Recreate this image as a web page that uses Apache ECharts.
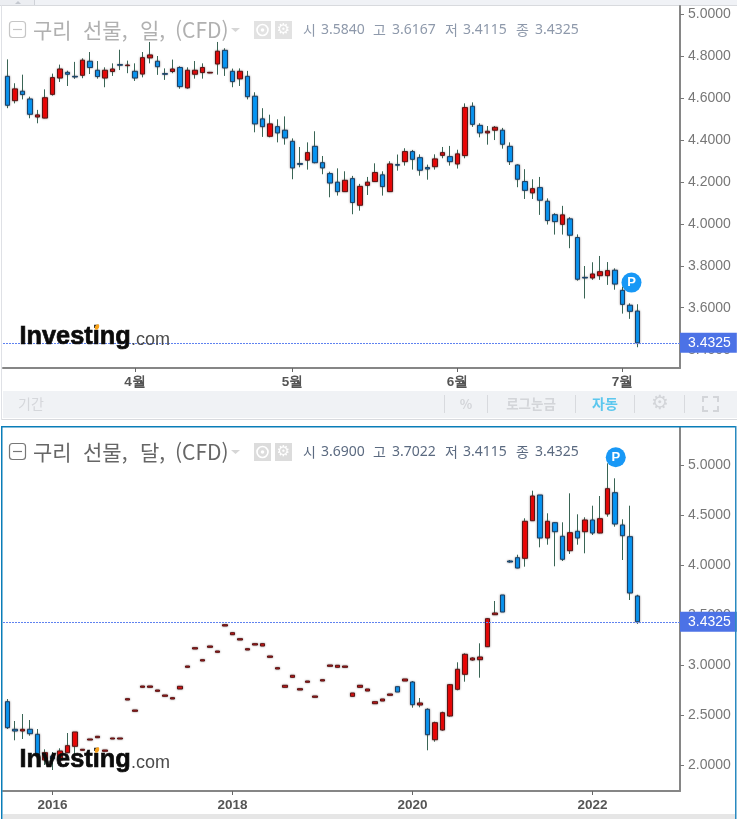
<!DOCTYPE html>
<html lang="ko">
<head>
<meta charset="utf-8">
<title>구리 선물</title>
<style>
  html, body { margin: 0; padding: 0; background: #fff; }
  #chart { width: 737px; height: 819px; }
</style>
<script src="https://cdn.jsdelivr.net/npm/echarts@6/dist/echarts.min.js"></script>
</head>
<body>
<div id="chart"></div>
<script>
// Daily copper futures candles
const dailyOpen = [4.704,4.588,4.633,4.596,4.510,4.505,4.618,4.696,4.723,4.704,4.709,4.776,4.733,4.696,4.727,4.760,4.755,4.728,4.715,4.792,4.776,4.717,4.727,4.746,4.649,4.714,4.722,4.720,4.763,4.828,4.728,4.692,4.704,4.609,4.501,4.418,4.464,4.447,4.394,4.288,4.304,4.370,4.292,4.240,4.199,4.154,4.216,4.089,4.184,4.202,4.234,4.154,4.283,4.297,4.345,4.316,4.269,4.273,4.327,4.321,4.286,4.326,4.561,4.470,4.434,4.447,4.447,4.370,4.281,4.202,4.148,4.173,4.108,4.044,3.998,4.024,3.935,3.745,3.742,3.753,3.753,3.779,3.683,3.612,3.584];
const dailyClose = [4.566,4.644,4.617,4.523,4.520,4.602,4.698,4.739,4.714,4.701,4.781,4.746,4.703,4.733,4.739,4.757,4.758,4.696,4.793,4.806,4.750,4.714,4.739,4.655,4.733,4.733,4.746,4.723,4.824,4.744,4.679,4.728,4.607,4.477,4.464,4.477,4.434,4.410,4.267,4.284,4.340,4.292,4.267,4.195,4.154,4.208,4.102,4.179,4.199,4.245,4.178,4.286,4.280,4.345,4.308,4.256,4.262,4.310,4.340,4.297,4.334,4.555,4.475,4.434,4.442,4.461,4.380,4.297,4.213,4.160,4.168,4.113,4.016,4.011,4.043,3.946,3.736,3.742,3.761,3.772,3.777,3.713,3.616,3.583,3.4325];
const dailyHigh = [4.785,4.671,4.712,4.607,4.544,4.642,4.717,4.760,4.731,4.773,4.790,4.820,4.777,4.747,4.766,4.831,4.779,4.766,4.820,4.868,4.801,4.742,4.784,4.752,4.747,4.777,4.766,4.725,4.868,4.838,4.741,4.742,4.730,4.628,4.552,4.521,4.499,4.513,4.408,4.367,4.389,4.442,4.324,4.249,4.265,4.251,4.229,4.191,4.224,4.289,4.251,4.299,4.331,4.361,4.353,4.332,4.283,4.332,4.367,4.372,4.354,4.575,4.580,4.480,4.467,4.467,4.458,4.389,4.284,4.261,4.213,4.224,4.122,4.051,4.086,4.032,3.950,3.799,3.817,3.847,3.818,3.788,3.701,3.621,3.6167];
const dailyLow = [4.552,4.575,4.594,4.504,4.480,4.504,4.612,4.677,4.658,4.692,4.695,4.715,4.693,4.652,4.706,4.734,4.719,4.682,4.699,4.766,4.711,4.687,4.719,4.645,4.645,4.693,4.693,4.719,4.712,4.706,4.652,4.658,4.594,4.437,4.415,4.413,4.389,4.378,4.213,4.270,4.259,4.289,4.237,4.127,4.135,4.154,4.046,4.063,4.138,4.200,4.135,4.152,4.254,4.278,4.259,4.230,4.211,4.259,4.313,4.278,4.264,4.313,4.463,4.413,4.378,4.400,4.359,4.281,4.175,4.119,4.119,4.043,3.997,3.949,3.949,3.884,3.729,3.644,3.733,3.733,3.709,3.686,3.572,3.547,3.4115];

// Monthly copper futures candles, July 2015 to July 2022
const monthlyOpen = [2.633,2.357,2.34,2.357,2.307,2.05,2.09,2.05,2.123,2.187,2.147,2.25,2.273,2.137,2.26,2.26,2.65,2.537,2.777,2.777,2.737,2.687,2.66,2.76,2.977,3.16,3.04,3.177,3.127,3.39,3.303,3.25,3.15,3.20,3.19,3.077,2.96,2.777,2.877,2.75,2.827,2.677,2.84,2.987,2.977,2.977,2.687,2.777,2.74,2.613,2.64,2.697,2.783,2.84,2.83,2.60,2.557,2.253,2.35,2.49,2.757,2.907,3.05,3.053,3.183,3.503,3.70,4.04,4.073,4.067,4.443,4.70,4.27,4.423,4.287,4.143,4.337,4.333,4.45,4.32,4.51,4.723,4.40,4.283,3.69];
const monthlyClose = [2.373,2.34,2.357,2.313,2.093,2.123,2.06,2.14,2.193,2.33,2.157,2.26,2.287,2.15,2.27,2.27,2.663,2.55,2.79,2.79,2.75,2.70,2.673,2.787,2.99,3.173,3.053,3.19,3.14,3.403,3.323,3.263,3.163,3.213,3.213,3.09,2.973,2.797,2.897,2.763,2.84,2.69,2.853,3.0,2.997,2.99,2.72,2.797,2.76,2.633,2.66,2.71,2.73,2.86,2.603,2.62,2.303,2.423,2.523,2.803,2.957,3.107,3.07,3.08,3.463,3.52,3.53,4.03,3.97,4.437,4.69,4.27,4.437,4.333,4.057,4.323,4.27,4.45,4.32,4.463,4.763,4.41,4.293,3.72,3.4325];
const monthlyHigh = [2.66,2.44,2.51,2.45,2.36,2.157,2.13,2.167,2.32,2.33,2.157,2.26,2.287,2.15,2.27,2.27,2.663,2.55,2.79,2.79,2.75,2.70,2.673,2.787,2.99,3.173,3.053,3.19,3.14,3.403,3.323,3.263,3.163,3.213,3.213,3.09,2.973,2.797,2.897,2.763,2.84,2.69,2.853,3.0,2.997,2.99,2.72,2.797,2.76,2.633,2.66,2.71,2.783,2.86,2.84,2.67,2.567,2.433,2.533,2.81,3.027,3.117,3.077,3.217,3.47,3.64,3.70,4.05,4.103,4.467,4.743,4.70,4.517,4.427,4.427,4.717,4.507,4.477,4.593,4.69,5.017,4.867,4.457,4.593,3.7022];
const monthlyLow = [2.36,2.247,2.26,2.293,2.09,2.0,1.95,2.0,2.117,2.10,2.147,2.25,2.273,2.137,2.26,2.26,2.65,2.537,2.777,2.777,2.737,2.687,2.66,2.76,2.977,3.16,3.04,3.177,3.127,3.39,3.303,3.25,3.15,3.20,3.19,3.077,2.96,2.777,2.877,2.75,2.827,2.677,2.84,2.987,2.977,2.977,2.687,2.777,2.74,2.613,2.64,2.697,2.73,2.84,2.573,2.577,2.147,2.233,2.343,2.483,2.747,2.833,3.043,2.873,3.18,3.50,3.53,4.023,3.967,3.983,4.443,4.177,4.203,3.987,4.04,4.11,4.203,4.117,4.30,4.317,4.483,4.383,4.05,3.65,3.4115];

// Axis ticks
const dailyPriceTicks = [3.4,3.6,3.8,4.0,4.2,4.4,4.6,4.8,5.0];
const monthlyPriceTicks = [2.0,2.5,3.0,3.5,4.0,4.5,5.0];
const dailyTimeTicks = [17,38,60,82];
const dailyTimeLabels = ['4월','5월','6월','7월'];
const monthlyTimeTicks = [6,30,54,78];
const monthlyTimeLabels = ['2016','2018','2020','2022'];

// Header texts and last price
const lastPrice = 3.4325;
const dailyTitle = '구리 선물, 일, (CFD)';
const monthlyTitle = '구리 선물, 달, (CFD)';
const quoteNames = ['시','고','저','종'];
const dailyQuote = ['3.5840','3.6167','3.4115','3.4325'];
const monthlyQuote = ['3.6900','3.7022','3.4115','3.4325'];
const toolbarItems = ['%','로그눈금','자동'];

// Pivot annotations as [candle index, price]
const dailyPivot = [83.2, 3.72];
const monthlyPivot = [81.1, 5.077];

const UI_FONT = '"Noto Sans CJK KR", "Noto Sans", sans-serif';
const AXIS_FONT = '"Liberation Sans", Arial, sans-serif';
const UP = '#f00000', DOWN = '#0097fb';
const UP_EDGE = '#5c1414', DOWN_EDGE = '#1b4166', WICK = '#2f5d4c';

function panelSeries(gridIdx, open, close, high, low, pivot) {
  const wicks = open.map((o, i) => [i, o, close[i], low[i], high[i]]);
  const bodies = open.map((o, i) => [i, o, close[i], Math.min(o, close[i]), Math.max(o, close[i])]);
  return [
    {
      type: 'candlestick', xAxisIndex: gridIdx, yAxisIndex: gridIdx, data: wicks, barWidth: 1,
      itemStyle: { color: WICK, color0: WICK, borderColor: WICK, borderColor0: WICK, borderWidth: 1, opacity: 0.95 },
      silent: true, z: 2
    },
    {
      type: 'candlestick', xAxisIndex: gridIdx, yAxisIndex: gridIdx, data: bodies, barWidth: 5,
      itemStyle: {
        color: UP, color0: DOWN, borderColor: UP_EDGE, borderColor0: DOWN_EDGE, borderWidth: 1,
        shadowBlur: 2, shadowColor: 'rgba(95,80,80,0.6)'
      },
      silent: true, z: 3,
      markLine: {
        silent: true, symbol: 'none', animation: false, z: 6,
        precision: 4,
        lineStyle: { type: [2, 1], color: '#5f82f0', width: 1 },
        label: {
          position: 'end', distance: 0, formatter: () => lastPrice.toFixed(4), color: '#fff',
          backgroundColor: '#4c72e6', padding: [4, 6, 2, 8],
          fontFamily: AXIS_FONT, fontSize: 14, lineHeight: 14
        },
        data: [{ yAxis: lastPrice }]
      },
      markPoint: {
        silent: true, symbol: 'circle', symbolSize: 20, animation: false, z: 7,
        itemStyle: { color: '#1898f6', shadowBlur: 0 },
        label: { formatter: 'P', color: '#fff', fontFamily: AXIS_FONT, fontWeight: 'bold', fontSize: 13 },
        data: [{ coord: pivot }]
      }
    }
  ];
}

function xAxisOf(gridIdx, ticks, labels) {
  return {
    type: 'value', gridIndex: gridIdx, min: -0.6, max: 89.667, splitLine: { show: false },
    axisLine: { onZero: false, lineStyle: { color: '#868686', width: 2 } },
    axisTick: { customValues: ticks, length: 4, inside: false, lineStyle: { color: '#666', width: 1 } },
    axisLabel: {
      customValues: ticks, margin: 7, color: '#555', fontFamily: AXIS_FONT, fontWeight: 'bold', fontSize: 13.5,
      formatter: v => labels[ticks.indexOf(v)]
    }
  };
}

function yAxisOf(gridIdx, ticks, min, max) {
  return {
    type: 'value', gridIndex: gridIdx, position: 'right', min, max, scale: true, splitLine: { show: false },
    axisLine: { show: true, onZero: false, lineStyle: { color: '#868686', width: 2 } },
    axisTick: { show: true, customValues: ticks, length: 4, lineStyle: { color: '#777', width: 1 } },
    axisLabel: {
      customValues: ticks, margin: 8, color: '#777', fontFamily: AXIS_FONT, fontSize: 14,
      padding: [4, 0, 0, 0], formatter: v => v.toFixed(4)
    }
  };
}

function text(x, y, str, font, fill, align) {
  return {
    type: 'text', silent: true, z: 20,
    style: { x, y, text: str, font, fill, align: align || 'left', verticalAlign: 'middle' }
  };
}
function rect(x, y, width, height, fill, z) {
  return { type: 'rect', silent: true, z: z === undefined ? -1 : z, shape: { x, y, width, height }, style: { fill } };
}
function polyline(points, stroke, width) {
  return { type: 'polyline', silent: true, z: 20, shape: { points }, style: { stroke, fill: 'none', lineWidth: width || 1.5 } };
}

// Chart title row: collapse box, name, dropdown caret, two small tool icons, OHLC quote
function header(y, title, quote, titleColor, iconColor, quoteColor, toolFill) {
  const items = [
    { type: 'rect', silent: true, z: 20, shape: { x: 9.5, y: y - 8.5, width: 16, height: 16, r: 3 }, style: { fill: 'none', stroke: iconColor, lineWidth: 1.2 } },
    polyline([[13, y - 0.5], [22, y - 0.5]], iconColor, 1.2),
    { type: 'polygon', silent: true, z: 20, shape: { points: [[231, y - 2], [240, y - 2], [235.5, y + 2]] }, style: { fill: '#d6d6d6' } },
    rect(254, y - 9, 17, 18, toolFill, 20),
    { type: 'circle', silent: true, z: 21, shape: { cx: 262.5, cy: y, r: 5.5 }, style: { fill: 'none', stroke: '#fff', lineWidth: 1.6 } },
    { type: 'circle', silent: true, z: 21, shape: { cx: 262.5, cy: y, r: 1.8 }, style: { fill: '#fff' } },
    rect(275, y - 9, 17, 18, toolFill, 20),
    Object.assign(text(283.5, y, '⚙', '15px "DejaVu Sans"', '#fff', 'center'), { z: 21 })
  ];
  // The title's words sit on wider gaps than the font's own space
  const wordX = [33, 83, 140, 175];
  title.split(' ').forEach((word, i) => {
    items.push(text(wordX[i], y, word, '21px ' + UI_FONT, titleColor));
  });
  const nameX = [303, 373, 445, 516];
  const valueX = [321, 392, 463, 535];
  quote.forEach((q, i) => {
    items.push(text(nameX[i], y, quoteNames[i], '14px ' + UI_FONT, quoteColor));
    items.push(text(valueX[i], y, q, '14px "Noto Sans", sans-serif', quoteColor));
  });
  return items;
}

// Wordmark laid over each plot, baseline given in pixels
function wordmark(base) {
  const bold = Object.assign(text(0, 0, 'Investing', 'bold 26.5px ' + AXIS_FONT, '#0b0b0b'), { z: 30, x: 19.5, y: base - 9.5, scaleX: 0.955 });
  bold.style.stroke = '#0b0b0b';
  bold.style.lineWidth = 0.7;
  const com = Object.assign(text(131, base - 6, '.com', '18px ' + AXIS_FONT, '#4a4a4a'), { z: 30 });
  const dot = { type: 'ellipse', silent: true, z: 31, shape: { cx: 97, cy: base - 19, rx: 2, ry: 3 }, rotation: -0.5, originX: 97, originY: base - 19, style: { fill: '#f7a21b' } };
  return [bold, com, dot];
}

const graphics = [
  // Page chrome around the upper chart
  rect(0, 0, 737, 5, '#f0f2f6'),
  rect(0, 0, 35, 5, '#eceef2'),
  rect(34, 0, 1, 5, '#cfd2d8'),
  rect(0, 5, 737, 1, '#d8dade'),
  rect(1, 5, 1, 415, '#dfe1e6'),
  { type: 'polygon', silent: true, z: -1, shape: { points: [[15, 4], [21, 4], [18, 1]] }, style: { fill: '#c4c8cf' } },
  rect(3, 391, 734, 27, '#f0f2f5'),
  rect(2, 419, 735, 1, '#d8dade'),
  text(18, 404, '기간', '14px ' + UI_FONT, '#d5d7db'),
  text(466, 404, toolbarItems[0], 'bold 13px ' + UI_FONT, '#d3d5d9', 'center'),
  text(531, 404, toolbarItems[1], 'bold 13.5px ' + UI_FONT, '#d3d5d9', 'center'),
  text(605, 404, toolbarItems[2], 'bold 14px ' + UI_FONT, '#5cc7ee', 'center'),
  text(660, 404, '⚙', '20px "DejaVu Sans"', '#d3d5d9', 'center'),
  polyline([[703, 402], [703, 397], [708, 397]], '#d3d5d9', 2),
  polyline([[713, 397], [718, 397], [718, 402]], '#d3d5d9', 2),
  polyline([[703, 406], [703, 411], [708, 411]], '#d3d5d9', 2),
  polyline([[713, 411], [718, 411], [718, 406]], '#d3d5d9', 2),
  rect(444, 395, 1, 18, '#d8dade', 0),
  rect(487, 395, 1, 18, '#d8dade', 0),
  rect(575, 395, 1, 18, '#d8dade', 0),
  rect(634, 395, 1, 18, '#d8dade', 0),
  rect(684, 395, 1, 18, '#d8dade', 0),
  // Frame of the lower chart
  rect(3, 814, 732, 5, '#e6e6e6'),
  rect(1, 426, 735, 1.5, '#0a7db8', 25),
  rect(1, 426, 1.5, 393, '#0a7db8', 25),
  rect(735, 426, 1.5, 393, '#2a8ac0', 25)
].concat(
  header(30, dailyTitle, dailyQuote, '#b0b0b0', '#c6c6c6', '#8e99ab', '#e2e2e2'),
  header(452, monthlyTitle, monthlyQuote, '#666', '#777', '#5b6a80', '#dcdcdc'),
  wordmark(346),
  wordmark(769)
);

const option = {
  animation: false,
  backgroundColor: '#fff',
  grid: [
    { left: 3, top: 6, width: 677, height: 362 },
    { left: 3, top: 427, width: 677, height: 364 }
  ],
  xAxis: [xAxisOf(0, dailyTimeTicks, dailyTimeLabels), xAxisOf(1, monthlyTimeTicks, monthlyTimeLabels)],
  yAxis: [yAxisOf(0, dailyPriceTicks, 3.3125, 5.0396), yAxisOf(1, monthlyPriceTicks, 1.74, 5.38)],
  series: panelSeries(0, dailyOpen, dailyClose, dailyHigh, dailyLow, dailyPivot)
    .concat(panelSeries(1, monthlyOpen, monthlyClose, monthlyHigh, monthlyLow, monthlyPivot)),
  graphic: graphics
};

const chart = echarts.init(document.getElementById('chart'), null, { renderer: 'canvas' });
chart.setOption(option);
</script>
</body>
</html>
